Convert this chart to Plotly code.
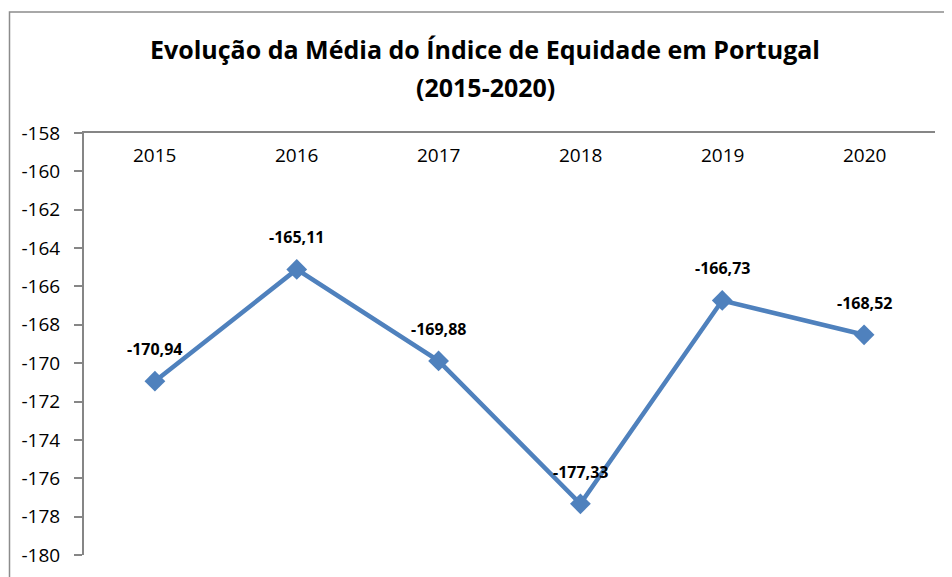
import plotly.graph_objects as go

YEARS = [2015, 2016, 2017, 2018, 2019, 2020]
MEDIA_EQUIDADE = [-170.94, -165.11, -169.88, -177.33, -166.73, -168.52]
Y_TICKS = list(range(-180, -157, 2))

LINE_BLUE = "#4f81bd"
AXIS_GRAY = "#868686"
FONT = "'Open Sans', sans-serif"

# the page puts the figure 8px in from the window corner; margins account for it
PAGE_OFFSET = 8
PLOT_TOP, PLOT_BOTTOM, PLOT_LEFT, PLOT_RIGHT = 133, 555, 84, 935
PLOT_H = PLOT_BOTTOM - PLOT_TOP
PLOT_W = PLOT_RIGHT - PLOT_LEFT

fig = go.Figure()
fig.add_trace(
    go.Scatter(
        x=YEARS, y=MEDIA_EQUIDADE, mode="lines+markers",
        line=dict(color=LINE_BLUE, width=4.5),
        marker=dict(symbol="diamond", size=16, color=LINE_BLUE),
        hoverinfo="skip", showlegend=False,
    )
)

# data labels above each point, decimal comma as in the original
for yr, v in zip(YEARS, MEDIA_EQUIDADE):
    fig.add_annotation(
        x=yr, y=v, text=f"{v:.2f}".replace(".", ","), showarrow=False,
        yshift=32, font=dict(family=FONT, size=16, color="#000000", weight="bold"),
    )

# category labels sit just under the top axis line (axis crosses at the max)
for yr in YEARS:
    fig.add_annotation(
        x=yr, xref="x", y=1, yref="paper", text=str(yr), showarrow=False,
        yanchor="middle", yshift=-22, font=dict(family=FONT, size=19, color="#000000"),
    )

# second title line
fig.add_annotation(
    x=(485 - PLOT_LEFT) / PLOT_W, xref="paper", y=(PLOT_BOTTOM - 87) / PLOT_H, yref="paper",
    text="(2015-2020)", showarrow=False, yanchor="middle",
    font=dict(family=FONT, size=25, color="#000000", weight="bold"),
)

# outer chart frame (extends beyond the crop on right/bottom)
fig.add_shape(
    type="rect", xref="paper", yref="paper",
    x0=(9.5 - PLOT_LEFT) / PLOT_W, x1=1.06, y0=-0.2, y1=(PLOT_BOTTOM - 12) / PLOT_H,
    line=dict(color="#8c8c8c", width=1.5), layer="below",
)

fig.update_layout(
    width=952, height=577,
    margin=dict(l=PLOT_LEFT - PAGE_OFFSET, r=952 + PAGE_OFFSET - PLOT_RIGHT,
                t=PLOT_TOP - PAGE_OFFSET, b=577 + PAGE_OFFSET - PLOT_BOTTOM),
    plot_bgcolor="white", paper_bgcolor="white",
    font=dict(family=FONT, color="#000000"),
    title=dict(
        text="Evolução da Média do Índice de Equidade em Portugal",
        x=(485 - PAGE_OFFSET) / 952, xanchor="center",
        y=1 - (50 - PAGE_OFFSET) / 577, yanchor="middle",
        font=dict(family=FONT, size=25, color="#000000", weight="bold"),
    ),
)
fig.update_xaxes(
    range=[2014.5, 2020.5], side="top", showline=True, linecolor=AXIS_GRAY, linewidth=2,
    ticks="", showticklabels=False, showgrid=False, zeroline=False,
    automargin=False, fixedrange=True,
)
fig.update_yaxes(
    range=[-180, -158], tickvals=Y_TICKS, ticktext=[str(t) for t in Y_TICKS],
    showline=True, linecolor=AXIS_GRAY, linewidth=2, ticks="outside", ticklen=8,
    tickcolor=AXIS_GRAY, tickwidth=2, showgrid=False, zeroline=False,
    ticklabelstandoff=10, tickfont=dict(size=19, color="#000000"),
    automargin=False, fixedrange=True,
)

fig.write_html("out.html")
